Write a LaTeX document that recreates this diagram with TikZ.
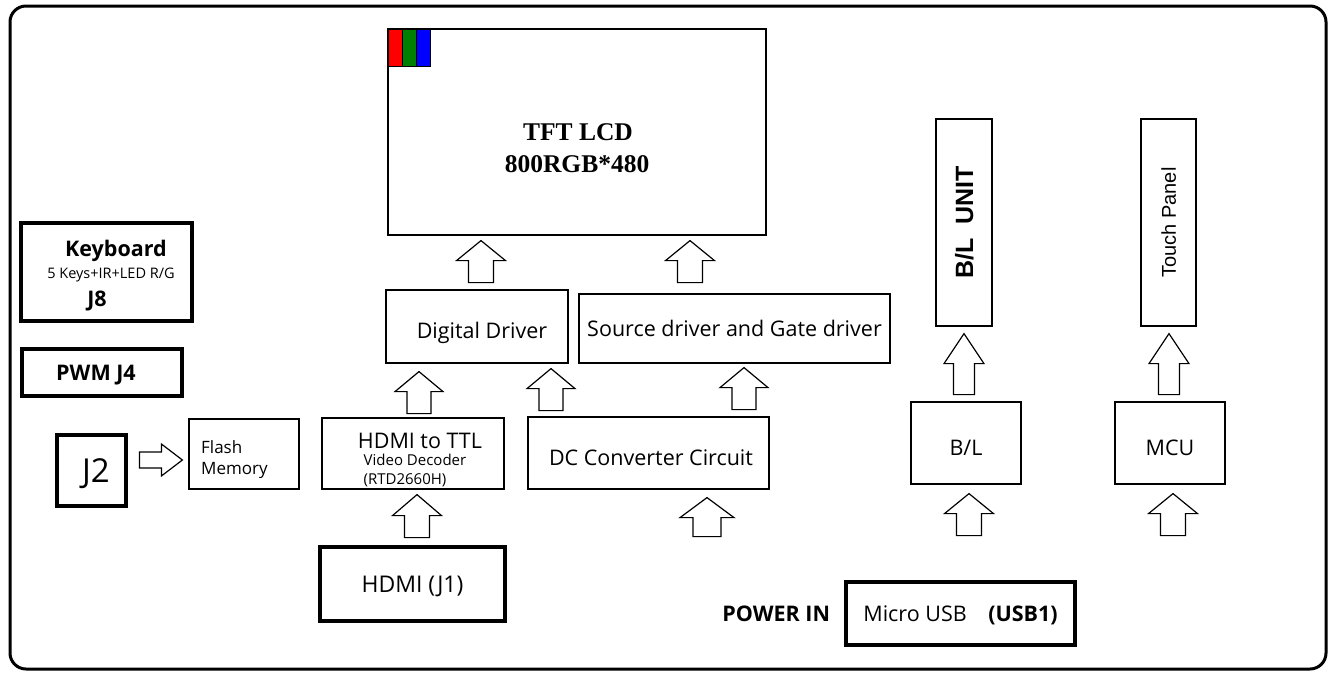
\documentclass[tikz,border=0pt]{standalone}
\usepackage{fontspec}
\setmainfont{Open Sans}
\newfontfamily\arialfont{Liberation Sans}
\newfontfamily\timesfont{Liberation Serif}
\usetikzlibrary{positioning,calc}
\tikzset{
    %Define style for blocks
    block/.style={
           rectangle,
           draw=black, line width=1.2pt,
           inner sep=0pt,
           text height=15pt, text depth=0pt,
           font=\fontsize{21.5}{26}\selectfont},
    blockthick/.style={block, line width=3.5pt},
    % Define style for single text lines
    textline/.style={inner sep=0pt, anchor=base,
           font=\fontsize{21.5}{26}\selectfont},
    smalltext/.style={font=\fontsize{15}{18}\selectfont},
    % Define hollow block arrow, tip at the origin
    pics/hollowup/.style n args={4}{code={
        \draw[line width=1.2pt, fill=white] (0,0) -- (#3,#2) -- (#4,#2) -- (#4,#1)
            -- (-#4,#1) -- (-#4,#2) -- (-#3,#2) -- cycle;}}
}
\begin{document}
\begin{tikzpicture}[x=1pt,y=-1pt]
\useasboundingbox (0,0) rectangle (1330,673);
\draw[line width=3pt, rounded corners=16pt] (10,6) rectangle (1326,669);

 %nodes
\node[block, minimum width=378pt, minimum height=206pt] (lcd) at (577,132) {};
\foreach \c [count=\i] in {red, green!50!black, blue}
    \draw[line width=1pt, fill=\c] ($(lcd.north west)+(14*\i-13,1)$) rectangle +(14,37);
\node[textline, font=\timesfont\bfseries\fontsize{25.5}{30}\selectfont] at (578,140) {TFT LCD};
\node[textline, font=\timesfont\bfseries\fontsize{25.5}{30}\selectfont] at (577,172) {800RGB*480};

\node[block, minimum width=182pt, minimum height=73pt, text height=24pt] (ddrv) at (477,326.5) {\hspace*{10pt}Digital Driver};
\node[block, minimum width=311pt, minimum height=69pt] (src) at (734.5,328.5) {Source driver and Gate driver};

\node[block, minimum width=182pt, minimum height=71pt] (ttl) at (413,453.5) {};
\node[textline] at (420,448) {HDMI to TTL};
\node[textline, smalltext] at (415,465) {Video Decoder};
\node[textline, smalltext] at (405,484) {(RTD2660H)};
\node[block, minimum width=241pt, minimum height=72pt, text height=24pt] (dc) at (648.5,453) {\hspace*{5pt}DC Converter Circuit};
\node[blockthick, minimum width=185pt, minimum height=74pt, font=\fontsize{23}{28}\selectfont, text height=16pt] (hdmi) at (412.5,584) {HDMI (J1)};

\node[blockthick, minimum width=171pt, minimum height=98pt] (kbd) at (106.5,272) {};
\node[textline, font=\bfseries\fontsize{21.5}{26}\selectfont] at (116,256) {Keyboard};
\node[textline, font=\fontsize{14.5}{17}\selectfont] at (111,278) {5 Keys+IR+LED R/G};
\node[textline, font=\bfseries\fontsize{21.5}{26}\selectfont] at (97,306) {J8};
\node[blockthick, minimum width=160pt, minimum height=47pt, font=\bfseries\fontsize{21.5}{26}\selectfont] (pwm) at (102,372.5) {PWM J4\hspace*{12pt}};
\node[blockthick, minimum width=69pt, minimum height=71pt, font=\fontsize{33}{40}\selectfont, text height=24pt] (j2) at (91.5,470.5) {\hspace*{9pt}J2};
\node[block, minimum width=110pt, minimum height=70pt] (flash) at (244,454) {};
\node[textline, anchor=base west, font=\fontsize{17}{20}\selectfont] at (201,453) {Flash};
\node[textline, anchor=base west, font=\fontsize{17}{20}\selectfont] at (201,474) {Memory};

\node[block, rotate=90, minimum width=207pt, minimum height=56pt, font=\arialfont\bfseries\fontsize{25}{30}\selectfont, text height=18pt] (blunit) at (964,222.5) {B/L\ \ UNIT};
\node[block, rotate=90, minimum width=207pt, minimum height=55pt, font=\arialfont\fontsize{20}{24}\selectfont, text height=14.5pt] (touch) at (1168.5,222.5) {Touch Panel};
\node[block, minimum width=110pt, minimum height=82pt, text height=24pt] (bl) at (966,443) {B/L};
\node[block, minimum width=110pt, minimum height=82pt, text height=24pt] (mcu) at (1170,443) {MCU};
\node[blockthick, minimum width=229pt, minimum height=63pt] (usb) at (960.5,613.5) {Micro USB\quad\textbf{(USB1)}};
\node[inner sep=0pt, left=14pt of usb, font=\bfseries\fontsize{21.5}{26}\selectfont, text height=15pt, text depth=0pt] (power) {POWER IN};

 %block arrows
% LCD inputs
\pic at ($(lcd.south)+(-96,5)$) {hollowup={42}{20}{24.5}{12.5}};
\pic at ($(lcd.south)+(113,5)$) {hollowup={42}{20}{24.5}{12.5}};
% driver inputs
\pic at ($(ddrv.south)+(-58,8)$) {hollowup={42}{20}{24}{12}};
\pic at ($(ddrv.south)+(74,5)$) {hollowup={42}{20}{24}{12}};
\pic at ($(src.south)+(9.5,4)$) {hollowup={42}{20}{24}{12}};
% decoder input
\pic at ($(ttl.south)+(4,5)$) {hollowup={43}{21}{24.5}{12.5}};
% power inputs
\pic at ($(dc.south)+(58.5,8)$) {hollowup={39}{20}{27}{14}};
\pic at ($(bl.south)+(3,9)$) {hollowup={42}{20}{24.5}{12.5}};
\pic at ($(mcu.south)+(3,9)$) {hollowup={42}{20}{24.5}{12.5}};
% backlight and touch
\pic at ($(blunit.west)+(0,7)$) {hollowup={61}{30}{20}{10.5}};
\pic at ($(touch.west)+(0.5,7)$) {hollowup={61}{30}{20}{10.5}};
% flash memory input
\pic[rotate=-90] at ($(flash.west)+(-6,6)$) {hollowup={43}{21}{16}{8}};

\end{tikzpicture}
\end{document}
